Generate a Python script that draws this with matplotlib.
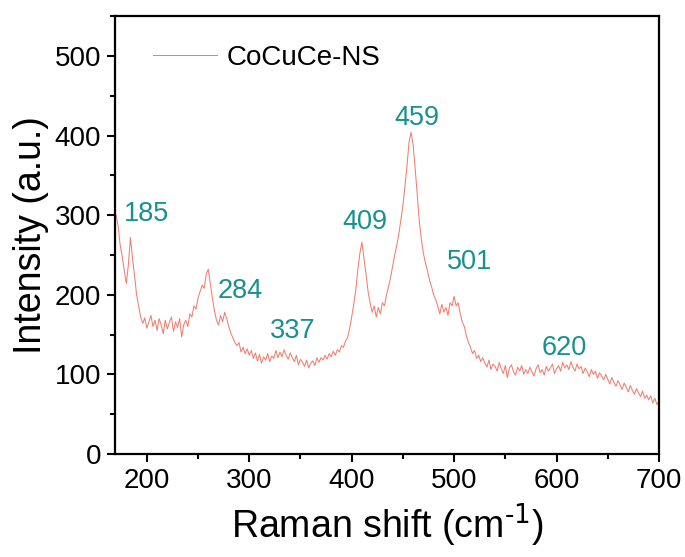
import matplotlib
matplotlib.use("Agg")
import matplotlib.pyplot as plt
from matplotlib.ticker import MultipleLocator

plt.rcParams['font.family'] = ['Liberation Sans', 'DejaVu Sans']

# Raman shift (cm-1)
shift = [
    170, 172, 174, 176, 178, 180, 182, 184, 186, 188, 190, 192, 194, 196, 198, 200, 202, 204, 206, 208,
    210, 212, 214, 216, 218, 220, 222, 224, 226, 228, 230, 232, 234, 236, 238, 240, 242, 244, 246, 248,
    250, 252, 254, 256, 258, 260, 262, 264, 266, 268, 270, 272, 274, 276, 278, 280, 282, 284, 286, 288,
    290, 292, 294, 296, 298, 300, 302, 304, 306, 308, 310, 312, 314, 316, 318, 320, 322, 324, 326, 328,
    330, 332, 334, 336, 338, 340, 342, 344, 346, 348, 350, 352, 354, 356, 358, 360, 362, 364, 366, 368,
    370, 372, 374, 376, 378, 380, 382, 384, 386, 388, 390, 392, 394, 396, 398, 400, 402, 404, 406, 408,
    410, 412, 414, 416, 418, 420, 422, 424, 426, 428, 430, 432, 434, 436, 438, 440, 442, 444, 446, 448,
    450, 452, 454, 456, 458, 460, 462, 464, 466, 468, 470, 472, 474, 476, 478, 480, 482, 484, 486, 488,
    490, 492, 494, 496, 498, 500, 502, 504, 506, 508, 510, 512, 514, 516, 518, 520, 522, 524, 526, 528,
    530, 532, 534, 536, 538, 540, 542, 544, 546, 548, 550, 552, 554, 556, 558, 560, 562, 564, 566, 568,
    570, 572, 574, 576, 578, 580, 582, 584, 586, 588, 590, 592, 594, 596, 598, 600, 602, 604, 606, 608,
    610, 612, 614, 616, 618, 620, 622, 624, 626, 628, 630, 632, 634, 636, 638, 640, 642, 644, 646, 648,
    650, 652, 654, 656, 658, 660, 662, 664, 666, 668, 670, 672, 674, 676, 678, 680, 682, 684, 686, 688,
    690, 692, 694, 696, 698, 700,
]

intensity = [
    300, 286, 262, 248, 230, 214, 238, 272, 246, 224, 200, 186, 172, 164, 171, 158, 166, 174, 160, 168,
    155, 170, 162, 151, 168, 157, 165, 172, 154, 166, 159, 170, 147, 162, 168, 160, 176, 172, 186, 182,
    196, 204, 212, 208, 226, 232, 214, 196, 180, 168, 162, 174, 166, 178, 170, 160, 152, 146, 140, 136,
    140, 128, 134, 126, 132, 124, 130, 120, 127, 117, 125, 114, 122, 118, 126, 116, 123, 120, 130, 121,
    128, 122, 131, 124, 119, 127, 121, 116, 124, 112, 119, 115, 110, 118, 108, 114, 117, 111, 121, 115,
    121, 118, 124, 119, 126, 122, 129, 124, 131, 128, 136, 134, 142, 146, 158, 172, 188, 206, 232, 252,
    266, 246, 226, 204, 190, 178, 186, 172, 184, 176, 190, 186, 200, 210, 222, 236, 250, 262, 276, 294,
    312, 336, 362, 392, 404, 388, 358, 326, 292, 270, 252, 240, 230, 218, 210, 200, 194, 186, 176, 188,
    178, 184, 174, 190, 186, 198, 186, 190, 176, 166, 160, 148, 140, 134, 126, 130, 120, 124, 116, 121,
    114, 109, 118, 106, 113, 110, 104, 115, 107, 101, 111, 96, 108, 112, 103, 99, 109, 104, 111, 100,
    106, 101, 109, 103, 98, 107, 112, 102, 106, 99, 110, 104, 108, 113, 101, 107, 111, 104, 115, 108,
    112, 106, 116, 109, 104, 113, 107, 110, 101, 108, 103, 97, 106, 100, 104, 95, 102, 98, 93, 100,
    94, 88, 96, 90, 85, 92, 87, 81, 89, 84, 78, 86, 80, 75, 82, 77, 72, 79, 70, 74,
    68, 73, 64, 70, 62, 66,
]

peak_labels = ["185", "284", "337", "409", "459", "501", "620"]
label_x = [200, 291, 342, 413, 464, 515, 608]
label_y = [301, 205, 155, 291, 422, 241, 133]

line_color = "#f07e6f"
label_color = "#17908f"

fig = plt.figure(figsize=(6.85, 5.57), dpi=100)
ax = fig.add_axes([0.168, 0.185, 0.794, 0.786])

ax.plot(shift, intensity, color=line_color, lw=0.75, label="CoCuCe-NS")

for txt, lx, ly in zip(peak_labels, label_x, label_y):
    ax.text(lx, ly, txt, color=label_color, fontsize=19.5, ha="center", va="center")

ax.set_xlim(169, 700)
ax.set_ylim(0, 550)
ax.xaxis.set_major_locator(MultipleLocator(100))
ax.xaxis.set_minor_locator(MultipleLocator(50))
ax.yaxis.set_major_locator(MultipleLocator(100))
ax.yaxis.set_minor_locator(MultipleLocator(50))
ax.tick_params(which="major", direction="out", length=6, width=1.5, labelsize=20, pad=4)
ax.tick_params(which="minor", direction="out", length=3.5, width=1.5)
for sp in ax.spines.values():
    sp.set_linewidth(1.6)

ax.set_xlabel(r"Raman shift (cm$^{\text{-}1}$)", fontsize=27, labelpad=5)
ax.set_ylabel("Intensity (a.u.)", fontsize=27, labelpad=4)

ax.legend(loc="center left", bbox_to_anchor=(0.07, 0.904), frameon=False, fontsize=20,
          handlelength=2.3, handletextpad=0.35, borderpad=0, borderaxespad=0)

fig.savefig("out.png", dpi=100)
